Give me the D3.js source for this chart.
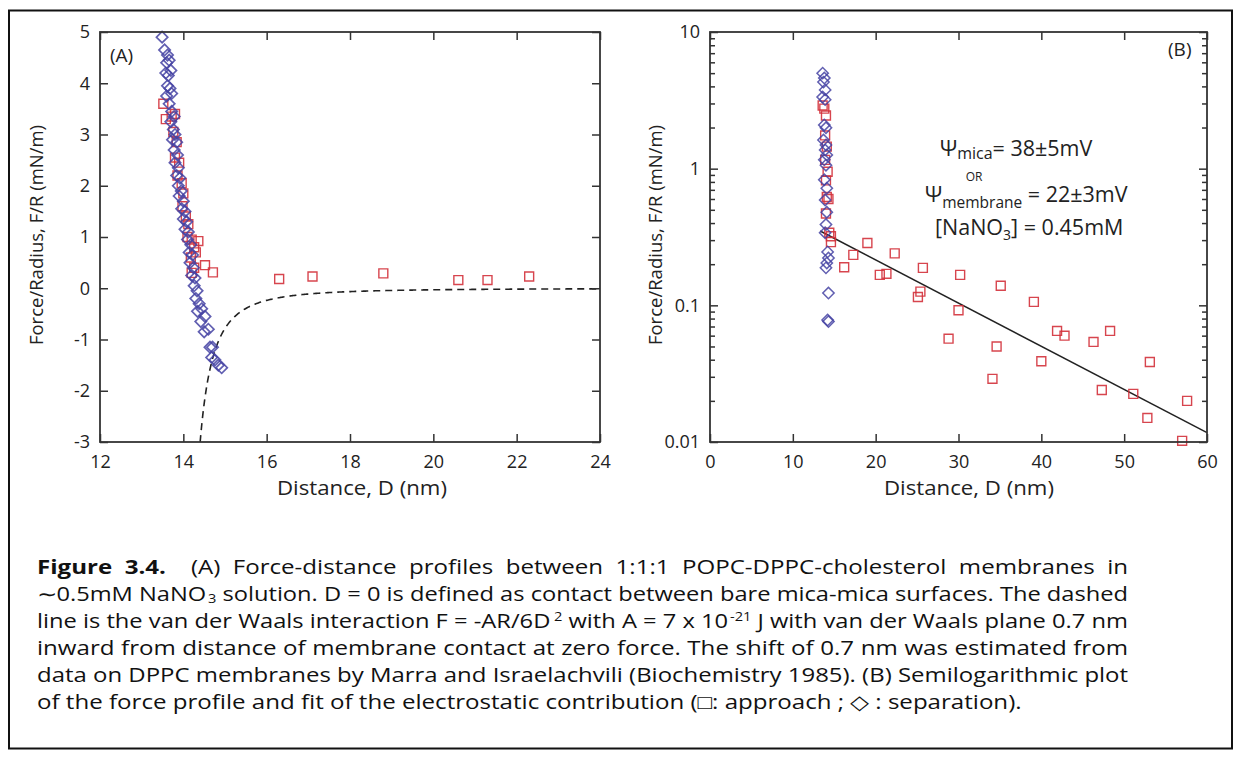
<!DOCTYPE html>
<html>
<head>
<meta charset="utf-8">
<script src="https://cdn.jsdelivr.net/npm/d3@7"></script>
<style>
  body { margin: 0; background: #fff; }
</style>
</head>
<body>
<div id="chart"></div>
<script>
// ---- data ----
// panel A : force/radius (mN/m) vs distance D (nm), linear axes
var leftApproach = [
  [13.52, 3.60], [13.58, 3.30], [13.72, 3.35], [13.80, 3.40], [13.76, 3.05],
  [13.84, 2.85], [13.80, 2.55], [13.90, 2.45], [13.86, 2.20], [13.96, 2.05],
  [14.00, 1.85], [13.98, 1.60], [14.06, 1.40], [14.12, 1.25], [14.10, 1.00],
  [14.20, 0.95], [14.26, 0.80], [14.18, 0.60], [14.30, 0.70], [14.26, 0.40],
  [14.20, 0.30], [14.36, 0.92], [14.52, 0.45], [14.71, 0.31],
  [16.30, 0.18], [17.10, 0.23], [18.80, 0.29], [20.60, 0.16], [21.30, 0.16], [22.30, 0.23]
];
var leftSeparation = [
  [13.49, 4.90], [13.55, 4.65], [13.62, 4.55], [13.60, 4.40], [13.66, 4.45],
  [13.58, 4.20], [13.64, 4.15], [13.70, 4.25], [13.62, 3.95], [13.68, 3.90],
  [13.60, 3.75], [13.72, 3.80], [13.66, 3.60], [13.72, 3.45], [13.78, 3.35],
  [13.70, 3.25], [13.76, 3.10], [13.80, 3.00], [13.74, 2.90], [13.84, 2.85],
  [13.78, 2.70], [13.86, 2.60], [13.80, 2.45], [13.88, 2.35], [13.84, 2.20],
  [13.92, 2.15], [13.88, 2.00], [13.95, 1.90], [13.90, 1.80], [14.00, 1.70],
  [13.96, 1.55], [14.04, 1.50], [14.00, 1.35], [14.08, 1.30], [14.04, 1.15],
  [14.12, 1.10], [14.10, 0.95], [14.18, 0.85], [14.14, 0.70], [14.22, 0.65],
  [14.16, 0.50], [14.24, 0.40], [14.20, 0.25], [14.28, 0.20], [14.26, 0.05],
  [14.33, -0.05], [14.30, -0.20], [14.38, -0.30], [14.34, -0.45], [14.44, -0.40],
  [14.42, -0.65], [14.52, -0.55], [14.50, -0.85], [14.60, -0.80], [14.64, -1.15],
  [14.70, -1.15], [14.68, -1.35], [14.76, -1.40], [14.84, -1.50], [14.92, -1.55]
];
// van der Waals curve F/R = -A/(6 (D - D0)^2), A in 1e-21 J, D in nm -> mN/m
var vdwA = 7;
var vdwPlane = 13.78;
var leftXTicks = [12, 14, 16, 18, 20, 22, 24];
var leftYTicks = [-3, -2, -1, 0, 1, 2, 3, 4, 5];

// panel B : same data on a semilog plot
var rightApproach = [
  [13.6, 2.9], [13.8, 2.75], [14.0, 2.45], [13.9, 1.75], [14.1, 1.45],
  [13.9, 1.16], [14.2, 0.95], [14.0, 0.82], [14.1, 0.62], [14.3, 0.60],
  [14.0, 0.47], [14.4, 0.34], [14.6, 0.32], [14.6, 0.29],
  [16.2, 0.19], [17.3, 0.234], [19.0, 0.286], [20.5, 0.167], [21.3, 0.17],
  [22.3, 0.24], [25.1, 0.115], [25.4, 0.126], [25.7, 0.188], [28.8, 0.057],
  [30.0, 0.092], [30.2, 0.167], [34.1, 0.029], [34.6, 0.050], [35.1, 0.139],
  [39.1, 0.106], [40.0, 0.039], [41.9, 0.065], [42.8, 0.060], [46.3, 0.054],
  [47.3, 0.024], [48.3, 0.065], [51.1, 0.0225], [52.8, 0.015], [53.1, 0.0385],
  [57.0, 0.0102], [57.6, 0.020]
];
var rightSeparation = [
  [13.6, 5.0], [13.8, 4.6], [13.7, 4.3], [13.9, 3.77], [13.6, 3.34],
  [13.9, 3.2], [13.8, 2.09], [14.0, 1.99], [13.7, 1.62], [14.0, 1.49],
  [13.9, 1.37], [14.1, 1.26], [13.8, 1.16], [14.0, 1.06], [13.8, 0.83],
  [14.1, 0.72], [13.9, 0.59], [14.1, 0.48], [14.0, 0.39], [13.9, 0.34],
  [14.2, 0.246], [14.3, 0.222], [14.1, 0.204], [14.0, 0.188], [14.3, 0.123],
  [14.2, 0.078], [14.3, 0.076]
];
var fitLine = [[13.3, 0.35], [60, 0.0117]];
var rightXTicks = [0, 10, 20, 30, 40, 50, 60];
var rightYMajor = [0.01, 0.1, 1, 10];

var captionLines = [
  [{ t: "Figure 3.4.", b: true }, { t: "  (A) Force-distance profiles between 1:1:1 POPC-DPPC-cholesterol membranes in" }],
  [{ t: "\u223C0.5mM NaNO" }, { t: "3", s: 2 }, { t: " solution. D = 0 is defined as contact between bare mica-mica surfaces. The dashed" }],
  [{ t: "line is the van der Waals interaction F = -AR/6D" }, { t: "2", s: -7, dx: 3 }, { t: " with A = 7 x 10" }, { t: "-21", s: -7 },
   { t: " J with van der Waals plane 0.7 nm" }],
  [{ t: "inward from distance of membrane contact at zero force. The shift of 0.7 nm was estimated from" }],
  [{ t: "data on DPPC membranes by Marra and Israelachvili (Biochemistry 1985). (B) Semilogarithmic plot" }],
  [{ t: "of the force profile and fit of the electrostatic contribution (\u25A1: approach ; \u25C7 : separation)." }]
];

function chart() {
  var w = 1241;
  var h = 758;
  var font = "'Open Sans', 'Noto Sans', sans-serif";
  var red = "#d3313b";
  var blue = "#4543a3";

  var svg = d3
    .select("#chart")
    .append("svg")
    .attr("width", w)
    .attr("height", h);

  // outer border of the figure
  svg
    .append("rect")
    .attr("x", 9)
    .attr("y", 10.5)
    .attr("width", 1223)
    .attr("height", 738)
    .attr("fill", "none")
    .attr("stroke", "#111")
    .attr("stroke-width", 2);

  var squareSym = d3.symbol(d3.symbolSquare, 80);
  var diamondSym = d3.symbol(d3.symbolSquare, 64);

  // shared frame + inward ticks on all four sides
  function frame(x, y, xTicks, yTicks, yFormat, minorY) {
    var x0 = x.range()[0], x1 = x.range()[1];
    var y0 = y.range()[1], y1 = y.range()[0];
    var tickLen = 8;

    var axes = [
      { a: d3.axisBottom(x).tickValues(xTicks).tickFormat((d) => String(d)).tickPadding(13), tr: [0, y1] },
      { a: d3.axisTop(x).tickValues(xTicks).tickFormat(""), tr: [0, y0] },
      { a: d3.axisLeft(y).tickValues(yTicks).tickFormat(yFormat).tickPadding(10), tr: [x0, 0] },
      { a: d3.axisRight(y).tickValues(yTicks).tickFormat(""), tr: [x1, 0] }
    ];
    axes.forEach(function (ax, i) {
      ax.a.tickSizeInner(-tickLen).tickSizeOuter(0);
      var g = svg
        .append("g")
        .attr("transform", "translate(" + ax.tr[0] + "," + ax.tr[1] + ")")
        .call(ax.a);
      g.select(".domain").remove();
      g.selectAll(".tick line").attr("stroke", "#333").attr("stroke-width", 1.5);
      g.selectAll(".tick text")
        .attr("fill", "#222")
        .style("font-family", font)
        .style("font-size", "18px");
      // short minor ticks for the log axis
      if (minorY && i >= 2) {
        g.selectAll(".tick")
          .filter((d) => !minorY(d))
          .select("line")
          .attr("x2", i == 2 ? 5 : -5);
      }
    });

    svg
      .append("rect")
      .attr("x", x0)
      .attr("y", y0)
      .attr("width", x1 - x0)
      .attr("height", y1 - y0)
      .attr("fill", "none")
      .attr("stroke", "#333")
      .attr("stroke-width", 1.8);
  }

  function points(data, x, y, sym, color, rot, op, sw) {
    svg
      .append("g")
      .selectAll("path")
      .data(data)
      .enter()
      .append("path")
      .attr("d", sym)
      .attr("transform", (d) => "translate(" + x(d[0]) + "," + y(d[1]) + ") rotate(" + rot + ")")
      .attr("fill", "none")
      .attr("stroke", color)
      .attr("stroke-width", sw)
      .attr("stroke-opacity", op);
  }

  function axisTitles(cx, ly, yTitleX) {
    svg
      .append("text")
      .attr("x", cx)
      .attr("y", 495)
      .attr("text-anchor", "middle")
      .attr("textLength", 170)
      .attr("lengthAdjust", "spacingAndGlyphs")
      .style("font-family", font)
      .style("font-size", "20.5px")
      .attr("fill", "#222")
      .text("Distance, D (nm)");
    svg
      .append("text")
      .attr("transform", "translate(" + yTitleX + "," + ly + ") rotate(-90)")
      .attr("text-anchor", "middle")
      .style("font-family", font)
      .style("font-size", "18.5px")
      .attr("fill", "#222")
      .text("Force/Radius, F/R (mN/m)");
  }

  // ---------- panel A ----------
  var xL = d3.scaleLinear().domain([12, 24]).range([100, 600]);
  var yL = d3.scaleLinear().domain([-3, 5]).range([442, 32]);

  svg
    .append("clipPath")
    .attr("id", "clipA")
    .append("rect")
    .attr("x", 100)
    .attr("y", 32)
    .attr("width", 500)
    .attr("height", 410);

  var vdwD = d3.range(vdwPlane + 0.58, 24.001, 0.02);
  svg
    .append("path")
    .datum(vdwD)
    .attr("clip-path", "url(#clipA)")
    .attr("fill", "none")
    .attr("stroke", "#222")
    .attr("stroke-width", 1.6)
    .attr("stroke-dasharray", "7,5")
    .attr(
      "d",
      d3
        .line()
        .x((d) => xL(d))
        .y((d) => yL(-vdwA / (6 * (d - vdwPlane) * (d - vdwPlane))))
    );

  points(leftApproach, xL, yL, squareSym, red, 0, 0.9, 1.4);
  points(leftSeparation, xL, yL, diamondSym, blue, 45, 0.85, 1.7);
  frame(xL, yL, leftXTicks, leftYTicks, (d) => String(d));
  axisTitles(362, 235, 43);

  svg
    .append("text")
    .attr("x", 110)
    .attr("y", 62)
    .style("font-family", font)
    .style("font-size", "19px")
    .attr("fill", "#222")
    .text("(A)");

  // ---------- panel B ----------
  var xR = d3.scaleLinear().domain([0, 60]).range([710, 1207]);
  var yR = d3.scaleLog().domain([0.01, 10]).range([442, 32]);

  var rightYTicks = [];
  rightYMajor.forEach(function (m, i) {
    rightYTicks.push(m);
    if (i < rightYMajor.length - 1) {
      d3.range(2, 10).forEach((k) => rightYTicks.push(+(m * k).toPrecision(3)));
    }
  });
  var isMajor = (d) => rightYMajor.indexOf(d) >= 0;

  svg
    .append("path")
    .datum(fitLine)
    .attr("fill", "none")
    .attr("stroke", "#222")
    .attr("stroke-width", 1.5)
    .attr(
      "d",
      d3
        .line()
        .x((d) => xR(d[0]))
        .y((d) => yR(d[1]))
    );

  points(rightApproach, xR, yR, squareSym, red, 0, 0.9, 1.4);
  points(rightSeparation, xR, yR, diamondSym, blue, 45, 0.85, 1.5);
  frame(xR, yR, rightXTicks, rightYTicks, (d) => (isMajor(d) ? String(d) : ""), isMajor);
  axisTitles(969, 235, 662);

  svg
    .append("text")
    .attr("x", 1168)
    .attr("y", 56)
    .style("font-family", font)
    .style("font-size", "19px")
    .attr("fill", "#222")
    .text("(B)");

  // annotation block
  var note = svg.append("g").style("font-family", font).attr("fill", "#222");
  var t1 = note.append("text").attr("x", 940).attr("y", 156).style("font-size", "21.5px");
  t1.append("tspan").text("\u03A8");
  t1.append("tspan").attr("dy", 3).style("font-size", "16px").text("mica");
  t1.append("tspan").attr("dy", -3).text("= 38\u00B15mV");

  note
    .append("text")
    .attr("x", 974)
    .attr("y", 181)
    .attr("text-anchor", "middle")
    .style("font-size", "12px")
    .text("OR");

  var t2 = note.append("text").attr("x", 925).attr("y", 202).style("font-size", "21.5px");
  t2.append("tspan").text("\u03A8");
  t2.append("tspan").attr("dy", 6).style("font-size", "15.5px").text("membrane");
  t2.append("tspan").attr("dy", -6).text(" = 22\u00B13mV");

  var t3 = note.append("text").attr("x", 935).attr("y", 235).style("font-size", "21.5px");
  t3.append("tspan").text("[NaNO");
  t3.append("tspan").attr("dy", 5).style("font-size", "14px").text("3");
  t3.append("tspan").attr("dy", -5).text("] = 0.45mM");

  // ---------- caption (justified lines, slightly wide glyphs like the scan) ----------
  var capX = 37;
  var capW = 1091;
  var lastW = 985;
  var cap = svg.append("g");
  var texts = captionLines.map(function (segs, i) {
    var t = cap
      .append("text")
      .attr("x", 0)
      .attr("y", 574 + 27 * i)
      .style("white-space", "pre")
      .style("font-family", "'Open Sans', 'Noto Sans', sans-serif")
      .style("font-size", "19.5px")
      .attr("fill", "#111");
    var shift = 0;
    var full = "";
    segs.forEach(function (s) {
      var s2 = s.s || 0;
      var sp = t.append("tspan").attr("dy", s2 - shift).text(s.t);
      if (s.b) sp.style("font-weight", "bold");
      if (s.s) sp.attr("dx", s.dx || 1.5).style("font-size", "12px");
      shift = s2;
      full += s.t;
    });
    return { t: t, full: full };
  });
  var sx = lastW / texts[texts.length - 1].t.node().getComputedTextLength();
  cap.attr("transform", "translate(" + capX + ",0) scale(" + sx + ",1)");
  texts.forEach(function (o, i) {
    if (i == texts.length - 1) return;
    var natural = o.t.node().getComputedTextLength();
    var spaces = o.full.split(" ").length - 1;
    var ws = (capW / sx - natural) / spaces;
    if (ws >= 0) {
      o.t.attr("word-spacing", ws);
    } else {
      o.t.attr("textLength", capW / sx).attr("lengthAdjust", "spacingAndGlyphs");
    }
  });
}

chart();
</script>
</body>
</html>
